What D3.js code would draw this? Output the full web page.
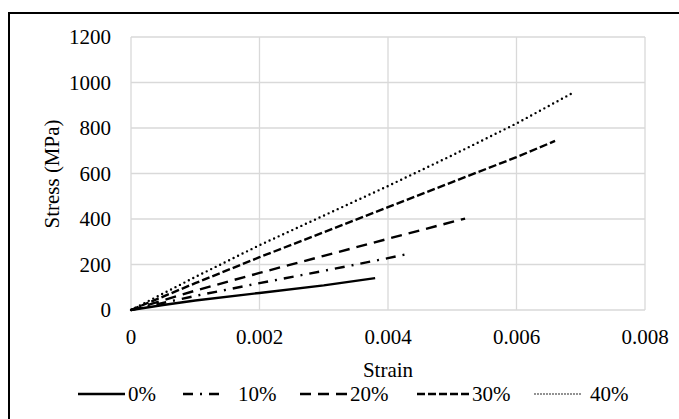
<!DOCTYPE html>
<html lang="en">
<head>
  <meta charset="UTF-8">
  <title>Stress - strain</title>
  <script src="https://d3js.org/d3.v7.min.js"></script>
  <style>
    body { margin:0; background:#fff; }
    svg { display:block; font-family:'Liberation Serif','Times New Roman',serif; }
  </style>
</head>
<body>
  <svg width="679" height="419"></svg>
  <script>
    const width = 679
    const height = 419
    const margin = {top: 37, right: 34, bottom: 109, left: 131}

    // values (strain, stress MPa)
    const labels = ['0%', '10%', '20%', '30%', '40%']
    const strain0 = [0, 0.0005, 0.001, 0.002, 0.003, 0.0038]
    const stress0 = [0, 22, 42, 75, 108, 140]
    const strain10 = [0, 0.001, 0.002, 0.003, 0.004, 0.0043]
    const stress10 = [0, 62, 118, 172, 228, 246]
    const strain20 = [0, 0.001, 0.002, 0.003, 0.004, 0.0052]
    const stress20 = [0, 85, 163, 238, 313, 402]
    const strain30 = [0, 0.001, 0.002, 0.003, 0.004, 0.005, 0.006, 0.0066]
    const stress30 = [0, 118, 232, 342, 452, 562, 672, 743]
    const strain40 = [0, 0.001, 0.002, 0.003, 0.004, 0.005, 0.006, 0.0069]
    const stress40 = [0, 145, 285, 415, 545, 680, 820, 958]
    const xTicks = [0, 0.002, 0.004, 0.006, 0.008]
    const yTicks = [0, 200, 400, 600, 800, 1000, 1200]

    const series = [
      {name: labels[0], x: strain0, y: stress0, dash: null, w: 2.4, cap: 'butt'},
      {name: labels[1], x: strain10, y: stress10, dash: '10,7,2,7', w: 2.4, cap: 'butt'},
      {name: labels[2], x: strain20, y: stress20, dash: '11,7', w: 2.4, cap: 'butt'},
      {name: labels[3], x: strain30, y: stress30, dash: '8,3', w: 2.4, cap: 'butt'},
      {name: labels[4], x: strain40, y: stress40, dash: '0,5', w: 2.4, cap: 'round'}
    ]

    const svg = d3.select('svg')

    // outer frame, runs past the right and bottom edges
    svg.append('rect')
      .attr('x', 9).attr('y', 13)
      .attr('width', 700).attr('height', 500)
      .attr('fill', 'none').attr('stroke', '#000').attr('stroke-width', 2)

    const x = d3.scaleLinear().domain([0, 0.008]).range([margin.left, width - margin.right])
    const y = d3.scaleLinear().domain([0, 1200]).range([height - margin.bottom, margin.top])

    // grid
    svg.append('g').selectAll('line').data(xTicks).join('line')
      .attr('x1', d => x(d)).attr('x2', d => x(d))
      .attr('y1', y(0)).attr('y2', y(1200))
      .attr('stroke', '#d9d9d9').attr('stroke-width', 1.3)
    svg.append('g').selectAll('line').data(yTicks).join('line')
      .attr('x1', x(0)).attr('x2', x(0.008))
      .attr('y1', d => y(d)).attr('y2', d => y(d))
      .attr('stroke', '#d9d9d9').attr('stroke-width', 1.3)

    // tick labels
    svg.append('g').selectAll('text').data(xTicks).join('text')
      .attr('x', d => x(d)).attr('y', 344)
      .attr('text-anchor', 'middle')
      .attr('font-size', 21)
      .text(d => d === 0 ? '0' : d3.format('.3f')(d))
    svg.append('g').selectAll('text').data(yTicks).join('text')
      .attr('x', 111).attr('y', d => y(d) + 7)
      .attr('text-anchor', 'end')
      .attr('font-size', 21)
      .text(d => d)

    // axis titles
    svg.append('text')
      .attr('x', 388).attr('y', 377)
      .attr('text-anchor', 'middle').attr('font-size', 21)
      .text('Strain')
    svg.append('text')
      .attr('transform', 'translate(59,' + 174 + ') rotate(-90)')
      .attr('text-anchor', 'middle').attr('font-size', 21)
      .text('Stress (MPa)')

    // lines
    const line = d3.line().x(d => x(d[0])).y(d => y(d[1]))
    svg.append('g').selectAll('path').data(series).join('path')
      .attr('d', s => line(s.x.map((v, i) => [v, s.y[i]])))
      .attr('fill', 'none').attr('stroke', '#000')
      .attr('stroke-width', s => s.w)
      .attr('stroke-dasharray', s => s.dash)
      .attr('stroke-linecap', s => s.cap)

    // legend
    const legendX = [78, 183, 300, 417, 535]
    const legendLen = [47, 36, 48, 52, 48]
    const legendText = [128, 238, 350, 472, 590]
    const leg = svg.append('g').selectAll('g').data(series).join('g')
    leg.append('line')
      .attr('x1', (s, i) => legendX[i]).attr('x2', (s, i) => legendX[i] + legendLen[i])
      .attr('y1', 394).attr('y2', 394)
      .attr('stroke', '#000')
      .attr('stroke-width', (s, i) => i === 4 ? 1.6 : s.w)
      .attr('stroke-dasharray', (s, i) => i === 4 ? '0,3' : s.dash)
      .attr('stroke-linecap', s => s.cap)
    leg.append('text')
      .attr('x', (s, i) => legendText[i]).attr('y', 401)
      .attr('font-size', 21)
      .text(s => s.name)
  </script>
</body>
</html>
